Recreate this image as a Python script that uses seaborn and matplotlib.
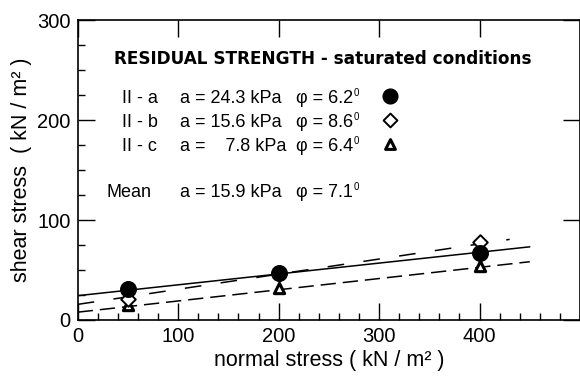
import numpy as np
import pandas as pd
import matplotlib
matplotlib.use("Agg")
import matplotlib.pyplot as plt
from matplotlib.ticker import MultipleLocator
import seaborn as sns

# ---- data ----
normal_stress = [50, 200, 400]
shear_IIa = [31, 47, 67]
shear_IIb = [21, 46, 78]
shear_IIc = [15, 32, 54]
series_names = ["II - a", "II - b", "II - c"]
cohesion_kpa = [24.3, 15.6, 7.8]
phi_deg = [6.2, 8.6, 6.4]
line_x_end = [450, 430, 450]
mean_cohesion = 15.9
mean_phi = 7.1
x_ticks = [0, 100, 200, 300, 400]
y_ticks = [0, 100, 200, 300]

sns.set_theme(style="ticks")
plt.rcParams["font.family"] = ["Liberation Sans", "DejaVu Sans"]
plt.rcParams["text.color"] = "black"
plt.rcParams["axes.labelcolor"] = "black"
plt.rcParams["lines.scale_dashes"] = False

fig = plt.figure(figsize=(5.8, 3.8), dpi=100)
ax = fig.add_axes([0.134, 0.158, 0.866, 0.789])

# fitted failure envelopes
line_styles = ["-", (0, (12, 14)), (0, (11, 5))]
for name, a, phi, xe, ls in zip(series_names, cohesion_kpa, phi_deg, line_x_end, line_styles):
    xs = np.array([0, xe])
    df_line = pd.DataFrame({"x": xs, "y": a + xs * np.tan(np.radians(phi))})
    sns.lineplot(data=df_line, x="x", y="y", ax=ax, color="black",
                 linewidth=1.1, linestyle=ls, zorder=2)

# measured points
df_pts = pd.DataFrame({
    "normal": normal_stress * 3,
    "shear": shear_IIc + shear_IIb + shear_IIa,
    "series": ["II - c"] * 3 + ["II - b"] * 3 + ["II - a"] * 3,
})
marker_spec = {
    "II - c": dict(marker="^", s=55, facecolor="white", edgecolor="black", linewidth=2.2),
    "II - b": dict(marker="D", s=55, facecolor="white", edgecolor="black", linewidth=1.4),
    "II - a": dict(marker="o", s=125, facecolor="black", edgecolor="black", linewidth=1),
}
for name in ["II - c", "II - b", "II - a"]:
    sub = df_pts[df_pts["series"] == name]
    sns.scatterplot(data=sub, x="normal", y="shear", ax=ax, zorder=3,
                    legend=False, **marker_spec[name])

ax.set_xlim(0, 500)
ax.set_ylim(0, 300)
ax.set_xticks(x_ticks)
ax.set_yticks(y_ticks)
ax.xaxis.set_minor_locator(MultipleLocator(20))
ax.yaxis.set_minor_locator(MultipleLocator(25))
ax.tick_params(which="major", direction="in", length=12, width=1, labelsize=14.5,
               top=True, right=True, pad=5, colors="black")
ax.tick_params(which="minor", direction="in", length=5, width=1,
               top=False, right=False, bottom=True, left=True, colors="black")
for sp in ax.spines.values():
    sp.set_linewidth(1.2)
    sp.set_color("black")

ax.set_xlabel("normal stress ( kN / m² )", fontsize=15.5, labelpad=3)
ax.set_ylabel("shear stress  ( kN / m² )", fontsize=15.5, labelpad=4)

# annotation block
ax.text(36, 261, "RESIDUAL STRENGTH - saturated conditions", fontsize=12.2,
        fontweight="bold", family="DejaVu Sans", va="center", ha="left")

fig.canvas.draw()
renderer = fig.canvas.get_renderer()


def phi_text(x, y, val):
    t = ax.text(x, y, f"φ = {val:.1f}", fontsize=13, va="center")
    bb = t.get_window_extent(renderer=renderer)
    xd, _ = ax.transData.inverted().transform((bb.x1, bb.y1))
    ax.text(xd + 0.8, y + 5, "0", fontsize=7, va="center", ha="left")


row_y = [222, 198, 174]
for name, a, phi, yy in zip(series_names, cohesion_kpa, phi_deg, row_y):
    ax.text(44, yy, name, fontsize=13, va="center")
    a_str = f"{a:.1f}"
    pad = "   " if len(a_str) < 4 else ""
    ax.text(102, yy, f"a = {pad}{a_str} kPa", fontsize=13, va="center")
    phi_text(217, yy, phi)
    spec = dict(marker_spec[name])
    spec["s"] = spec["s"] * 0.9
    ax.scatter([311], [yy + 2], zorder=3, clip_on=False, **spec)

ax.text(29, 128, "Mean", fontsize=13, va="center")
ax.text(102, 128, f"a = {mean_cohesion:.1f} kPa", fontsize=13, va="center")
phi_text(217, 128, mean_phi)

fig.savefig("out.png", dpi=100)
